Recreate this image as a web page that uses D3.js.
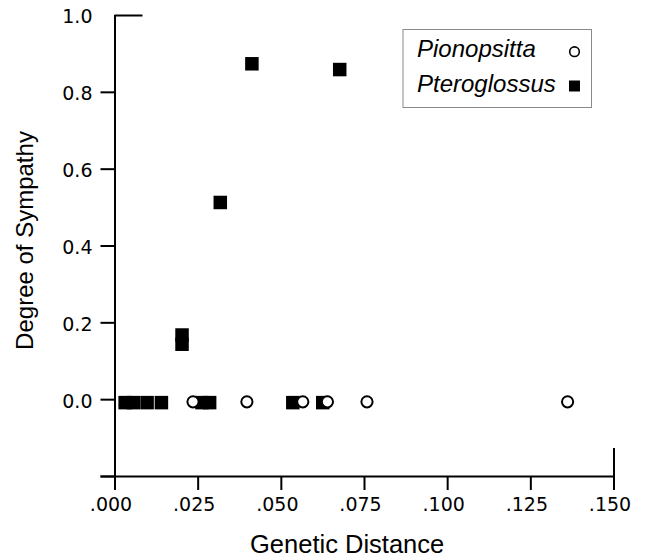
<!DOCTYPE html>
<html>
<head>
<meta charset="utf-8">
<script src="https://cdn.jsdelivr.net/npm/d3@7/dist/d3.min.js"></script>
<style>
  html, body { margin: 0; padding: 0; background: #fff; }
  svg { display: block; }
</style>
</head>
<body>
<svg id="chart" width="648" height="557"></svg>
<script>
// ---- data ----
const seriesNames = ["Pionopsitta", "Pteroglossus"];
const xTickValues = [0, 0.025, 0.05, 0.075, 0.1, 0.125, 0.15];
const yTickValues = [-0.2, 0, 0.2, 0.4, 0.6, 0.8, 1.0];

const pionopsittaDistance = [0.0236, 0.0398, 0.0566, 0.0640, 0.0759, 0.1362];
const pionopsittaSympatry = [-0.007, -0.007, -0.007, -0.007, -0.007, -0.007];

const pteroglossusDistance = [0.0032, 0.0057, 0.0098, 0.0141, 0.0203, 0.0203, 0.0263, 0.0286, 0.0318, 0.0413, 0.0536, 0.0626, 0.0677];
const pteroglossusSympatry = [-0.009, -0.009, -0.009, -0.009, 0.143, 0.167, -0.009, -0.009, 0.512, 0.873, -0.009, -0.009, 0.858];

// ---- layout ----
const svg = d3.select("#chart");
const x = d3.scaleLinear().domain([0, 0.15]).range([114.5, 613.5]);
const y = d3.scaleLinear().domain([-0.2, 1.0]).range([476, 15]);

const tickFont = "'DejaVu Sans', Verdana, sans-serif";
const textFont = "'Liberation Sans', Arial, Helvetica, sans-serif";
const tickLen = 14;
const capIn = 28;

// X axis
const xAxis = d3.axisBottom(x)
  .tickValues(xTickValues)
  .tickSize(tickLen)
  .tickSizeOuter(0)
  .tickPadding(8)
  .tickFormat(d => d3.format(".3f")(d).replace(/^0/, ""));
const gx = svg.append("g").attr("transform", `translate(0,${y(-0.2)})`).call(xAxis);
gx.select(".domain").attr("d", `M${x(0) - tickLen},0.5H${x(0.15)}`);
gx.selectAll(".tick line").attr("stroke-width", 2);
gx.selectAll(".tick text").attr("font-family", tickFont).attr("font-size", 19).attr("fill", "#000").attr("dx", -4);
gx.selectAll(".tick").filter(d => d === 0.15).select("line").attr("y1", -capIn);

// Y axis
const yAxis = d3.axisLeft(y)
  .tickValues(yTickValues)
  .tickSize(tickLen)
  .tickSizeOuter(0)
  .tickPadding(8)
  .tickFormat(d => d < -0.1 ? "" : d3.format(".1f")(d));
const gy = svg.append("g").attr("transform", `translate(${x(0)},0)`).call(yAxis);
gy.select(".domain").attr("d", `M0.5,${y(1.0)}V${y(-0.2) + tickLen}`);
gy.selectAll(".tick line").attr("stroke-width", 2);
gy.selectAll(".tick text").attr("font-family", tickFont).attr("font-size", 19).attr("fill", "#000").attr("dy", "0.42em");
gy.selectAll(".tick").filter(d => d === 1.0).select("line").attr("x2", capIn);

svg.selectAll(".domain").attr("stroke", "#000").attr("stroke-width", 2);
svg.selectAll(".tick line").attr("stroke", "#000");

// Axis titles
svg.append("text")
  .attr("x", 250)
  .attr("y", 553)
  .attr("text-anchor", "start")
  .attr("font-family", textFont)
  .attr("font-size", 25.5)
  .attr("fill", "#000")
  .text("Genetic Distance");

svg.append("text")
  .attr("transform", `translate(33,${(y(1.0) + y(-0.2)) / 2 - 5}) rotate(-90)`)
  .attr("text-anchor", "middle")
  .attr("font-family", textFont)
  .attr("font-size", 24)
  .attr("fill", "#000")
  .text("Degree of Sympathy");

// ---- marks ----
const sq = 13.5;
const pteroData = pteroglossusDistance.map((d, i) => ({ d, s: pteroglossusSympatry[i] }));
const pionData = pionopsittaDistance.map((d, i) => ({ d, s: pionopsittaSympatry[i] }));

svg.append("g").selectAll("rect").data(pteroData).join("rect")
  .attr("x", p => x(p.d) - sq / 2)
  .attr("y", p => y(p.s) - sq / 2)
  .attr("width", sq).attr("height", sq)
  .attr("fill", "#000");

svg.append("g").selectAll("circle").data(pionData).join("circle")
  .attr("cx", p => x(p.d))
  .attr("cy", p => y(p.s))
  .attr("r", 5.6)
  .attr("fill", "#fff")
  .attr("stroke", "#000")
  .attr("stroke-width", 2);

// ---- legend ----
const lg = svg.append("g");
lg.append("rect")
  .attr("x", 403).attr("y", 29.5).attr("width", 188.5).attr("height", 78)
  .attr("fill", "#fff").attr("stroke", "#8a8a8a").attr("stroke-width", 1);
const rows = [
  { name: seriesNames[0], yb: 57, ym: 51.7 },
  { name: seriesNames[1], yb: 91.5, ym: 86 }
];
lg.selectAll("text").data(rows).join("text")
  .attr("x", 417)
  .attr("y", r => r.yb)
  .attr("font-family", textFont)
  .attr("font-style", "italic")
  .attr("font-size", 24)
  .attr("fill", "#000")
  .text(r => r.name);
lg.append("circle").attr("cx", 574.5).attr("cy", rows[0].ym).attr("r", 4.8)
  .attr("fill", "#fff").attr("stroke", "#000").attr("stroke-width", 1.6);
lg.append("rect").attr("x", 569).attr("y", rows[1].ym - 5.5).attr("width", 11).attr("height", 11)
  .attr("fill", "#000");
</script>
</body>
</html>
